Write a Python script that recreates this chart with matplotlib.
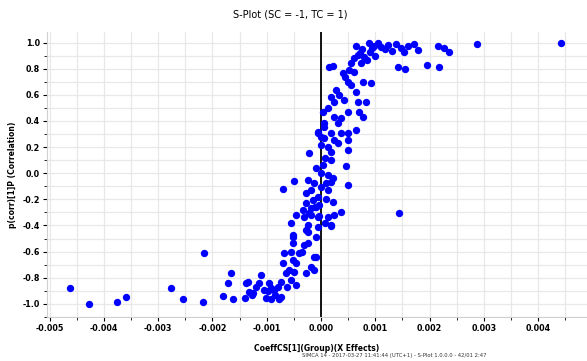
import matplotlib
matplotlib.use("Agg")
import matplotlib.pyplot as plt
from matplotlib.ticker import MultipleLocator, FormatStrFormatter

# x: covariance coefficient, y: correlation p(corr)
cov_x = [
    0.00064, 0.00088, 0.00105, 0.00110, 0.00123, 0.00138, 0.00147, 0.00152,
    0.00171, 0.00178, 0.00215, 0.00226, 0.00235, 0.00288, 0.00442,
    0.00141, 0.00154, 0.00196, 0.00218,
    0.00068, 0.00079, 0.00073, 0.00055, 0.00051, 0.00061, 0.00022, 0.00015,
    0.00040, 0.00050, 0.00055, 0.00077, 0.00092, 0.00064, 0.00028, 0.00033,
    0.00018, 0.00024, 0.00042, 0.00068, 0.00083, 0.00013, 0.00004, 0.00050,
    0.00070, 0.00077, 0.00024, 0.00037, 0.00006, 0.00064, -0.00006, 0.00018,
    0.00000, 0.00050,
    0.00006, 0.00031, -0.00006, 0.00006, 0.00024, 0.00037, 0.00050, 0.00000,
    0.00013, 0.00031, 0.00018, 0.00050, -0.00022, 0.00018, 0.00046, -0.00009,
    0.00000, 0.00013, 0.00022, -0.00050, -0.00024, -0.00013, 0.00009, 0.00018,
    0.00050, -0.00070, -0.00028, -0.00018, 0.00000, 0.00013, -0.00006, -0.00015,
    0.00022, -0.00028, -0.00004, -0.00018, -0.00009, -0.00033, -0.00022, 0.00037,
    -0.00046, -0.00031, 0.00013, 0.00143, 0.00024,
    -0.00018, -0.00006, -0.00055, -0.00024, -0.00006, 0.00018, -0.00024, -0.00051,
    -0.00009, -0.00024, -0.00051, -0.00031, -0.00040, -0.00068, -0.00055, -0.00009,
    -0.00051, -0.00070, -0.00046, -0.00018, -0.00013, -0.00059, -0.00064, -0.00050,
    -0.00028, -0.00055, -0.00046, -0.00073, -0.00095, -0.00114, -0.00092, -0.00086,
    -0.00079, -0.00119, -0.00134, -0.00132, -0.00125, -0.00141, -0.00101, -0.00092,
    -0.00077, -0.00073, -0.00110, -0.00165, -0.00171, -0.00180, -0.00162, -0.00215,
    -0.00217, -0.00462, -0.00428, -0.00376, -0.00360, -0.00277, -0.00255, -0.00138,
    -0.00128, -0.00105, -0.00051, -0.00013, -0.00028, 0.00018,
    0.00075, 0.00090, 0.00098, 0.00118, 0.00085, 0.00100, 0.00130, 0.00160,
    0.00094, 0.00072, 0.00060, 0.00045, 0.00008, 0.00010, -0.00003, 0.00004,
    -0.00012, 0.00007, -0.00035, -0.00062, -0.00085, -0.00098,
]
corr_y = [
    0.973, 0.996, 0.996, 0.966, 0.981, 0.989, 0.958, 0.927,
    0.989, 0.943, 0.973, 0.958, 0.927, 0.989, 0.996,
    0.812, 0.797, 0.828, 0.812,
    0.904, 0.889, 0.843, 0.843, 0.789, 0.774, 0.820, 0.812,
    0.766, 0.697, 0.674, 0.697, 0.690, 0.621, 0.636, 0.598,
    0.582, 0.544, 0.559, 0.544, 0.544, 0.498, 0.467, 0.467,
    0.467, 0.429, 0.429, 0.421, 0.383, 0.330, 0.314, 0.307,
    0.276, 0.253,
    0.352, 0.383, 0.307, 0.268, 0.253, 0.307, 0.307, 0.215,
    0.199, 0.230, 0.161, 0.176, 0.153, 0.100, 0.054, 0.038,
    0.000, -0.015, -0.038, -0.061, -0.054, -0.077, -0.077, -0.069,
    -0.092, -0.123, -0.153, -0.130, -0.107, -0.130, -0.184, -0.207,
    -0.222, -0.230, -0.245, -0.268, -0.261, -0.284, -0.307, -0.299,
    -0.322, -0.337, -0.337, -0.307, -0.322,
    -0.322, -0.337, -0.383, -0.398, -0.414, -0.398, -0.452, -0.490,
    -0.490, -0.536, -0.536, -0.552, -0.613, -0.613, -0.605, -0.644,
    -0.667, -0.690, -0.690, -0.720, -0.743, -0.743, -0.766, -0.759,
    -0.766, -0.820, -0.858, -0.835, -0.843, -0.843, -0.881, -0.897,
    -0.874, -0.874, -0.835, -0.912, -0.920, -0.958, -0.958, -0.966,
    -0.966, -0.950, -0.782, -0.766, -0.843, -0.943, -0.966, -0.613,
    -0.989, -0.881, -1.004, -0.989, -0.950, -0.881, -0.966, -0.843,
    -0.935, -0.897, -0.475, -0.644, -0.437, -0.406,
    0.950, 0.930, 0.975, 0.950, 0.870, 0.900, 0.935, 0.975,
    0.960, 0.920, 0.880, 0.740, 0.120, -0.200, -0.330, 0.060,
    -0.260, -0.380, -0.600, -0.870, -0.930, -0.905,
]

fig = plt.figure(figsize=(5.87, 3.61), dpi=100)
ax = fig.add_axes([0.080, 0.122, 0.92, 0.789])

ax.scatter(cov_x, corr_y, s=28, color="#0000ff", marker="o", linewidths=0, zorder=3)
ax.axvline(0, color="black", lw=1.3, zorder=2)

ax.set_xlim(-0.00505, 0.0049)
ax.set_ylim(-1.10, 1.08)
ax.xaxis.set_major_locator(MultipleLocator(0.001))
ax.xaxis.set_minor_locator(MultipleLocator(0.0005))
ax.yaxis.set_major_locator(MultipleLocator(0.2))
ax.yaxis.set_minor_locator(MultipleLocator(0.1))
ax.xaxis.set_major_formatter(FormatStrFormatter("%.3f"))
ax.yaxis.set_major_formatter(FormatStrFormatter("%.1f"))

ax.grid(True, which="both", color="#e8e8e8", lw=0.9, zorder=0)
for side in ["top", "right"]:
    ax.spines[side].set_visible(False)
for side in ["left", "bottom"]:
    ax.spines[side].set_color("#d0d0d0")
ax.tick_params(which="major", length=3, width=0.8, labelsize=5.8, pad=2)
ax.tick_params(which="minor", length=2, width=0.6)
for lab in ax.get_xticklabels() + ax.get_yticklabels():
    lab.set_fontweight("bold")

fig.suptitle("S-Plot (SC = -1, TC = 1)", x=0.495, y=0.975, fontsize=7)
ax.set_xlabel("CoeffCS[1](Group)(X Effects)", fontsize=5.5, fontweight="bold", labelpad=8)
ax.set_ylabel("p(corr)[1]P (Correlation)", fontsize=5.5, fontweight="bold", labelpad=4)
fig.text(0.515, 0.012, "SIMCA 14 - 2017-03-27 11:41:44 (UTC+1) - S-Plot 1.0.0.0 - 42/01 2:47",
         fontsize=3.8, color="#333333")

fig.savefig("out.png", dpi=100)
